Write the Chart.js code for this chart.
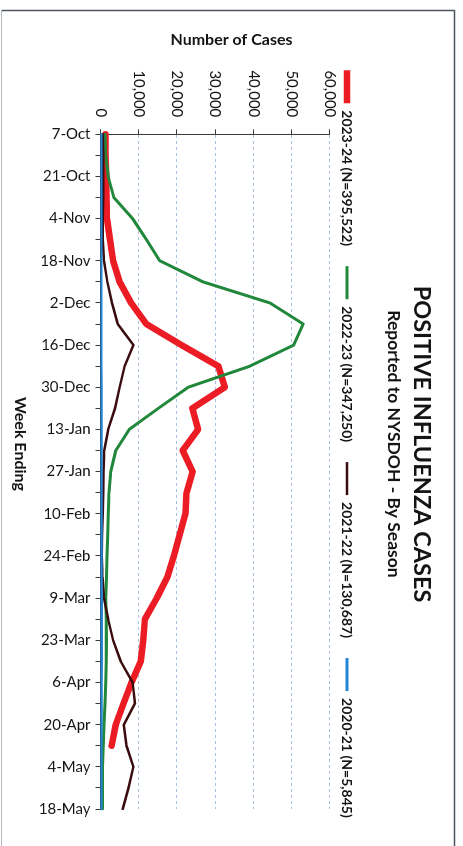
<!DOCTYPE html>
<html>
<head>
<meta charset="utf-8">
<title>Positive Influenza Cases</title>
<script src="https://cdn.jsdelivr.net/npm/chart.js@4/dist/chart.umd.min.js"></script>
<style>
  html, body { margin: 0; padding: 0; width: 463px; height: 846px; overflow: hidden; background: #ffffff; }
  #page { position: relative; width: 463px; height: 846px; overflow: hidden; }
  /* the chart is laid out landscape and turned a quarter turn clockwise */
  #turn { position: absolute; left: 0; top: 0; width: 888px; height: 463px;
          transform-origin: 0 0; transform: translate(463px, 0) rotate(90deg); }
  canvas { display: block; }
</style>
</head>
<body>
<div id="page"><div id="turn"><canvas id="flu" width="888" height="463"></canvas></div></div>
<script>
// Week-ending dates, 7 Oct through 18 May
const weeks = ['7-Oct','14-Oct','21-Oct','28-Oct','4-Nov','11-Nov','18-Nov','25-Nov','2-Dec','9-Dec',
  '16-Dec','23-Dec','30-Dec','6-Jan','13-Jan','20-Jan','27-Jan','3-Feb','10-Feb','17-Feb','24-Feb',
  '2-Mar','9-Mar','16-Mar','23-Mar','30-Mar','6-Apr','13-Apr','20-Apr','27-Apr','4-May','11-May','18-May'];

// Weekly positive influenza cases per season
const season2023_24 = [1300,1300,1500,1600,1700,2500,3300,5000,8000,12000,21200,30800,32500,24000,25500,
  21500,24100,22500,22200,20700,19200,17500,14700,11600,11200,10500,8100,6000,4000,2900];
const season2022_23 = [1200,1400,2000,3500,8400,12000,15500,26800,44300,53000,50500,39000,22900,15100,7500,
  4000,2700,2200,2000,1900,1700,1600,1400,1500,1600,1500,1400,1200,900,700,500,500,500];
const season2021_22 = [600,700,700,700,600,600,900,1800,3000,4500,8600,6300,5000,3800,2000,1000,800,700,
  600,400,300,500,900,2000,3300,5300,8400,9000,6100,6800,8600,7300,5800];
const season2020_21 = [100,100,100,100,100,100,100,100,100,150,150,150,200,200,200,200,200,200,200,200,
  200,200,250,250,250,250,200,200,200,150,150,150,150];

const seasonLabels = ['2023-24 (N=395,522)', '2022-23 (N=347,250)', '2021-22 (N=130,687)', '2020-21 (N=5,845)'];
const seasonColors = ['#ec1c24', '#21873a', '#3b0c0e', '#2486d6'];
const seasonWidths = [6.5, 3, 2.5, 3];

// Value axis ticks
const caseMin = 0, caseMax = 60000, caseStep = 10000;

const FONT = 'Lato, "Open Sans", sans-serif';
const INK = '#141414';

function seasonDataset(i, values) {
  return {
    label: seasonLabels[i],
    data: values,
    borderColor: seasonColors[i],
    backgroundColor: seasonColors[i],
    borderWidth: seasonWidths[i],
    pointBorderColor: seasonColors[i],
    pointBorderWidth: seasonWidths[i],
    pointRadius: 0,
    pointHoverRadius: 0,
    tension: 0,
    fill: false,
    borderCapStyle: 'round',
    borderJoinStyle: 'round',
    order: 4 - i
  };
}

// outer frame of the chart object (the far end runs past the page)
const framePlugin = {
  id: 'frame',
  beforeDraw(chart) {
    const { ctx, width, height } = chart;
    ctx.save();
    ctx.fillStyle = '#ffffff';
    ctx.fillRect(0, 0, width, height);
    ctx.strokeStyle = '#4d5360';
    ctx.lineWidth = 1.5;
    ctx.beginPath();
    ctx.moveTo(width, 8.5);
    ctx.lineTo(10.5, 8.5);
    ctx.lineTo(10.5, height - 1.5);
    ctx.stroke();
    ctx.strokeStyle = '#b4b8c0';
    ctx.lineWidth = 1;
    ctx.beginPath();
    ctx.moveTo(10.5, height - 1.5);
    ctx.lineTo(width, height - 1.5);
    ctx.stroke();
    ctx.restore();
  }
};

// axis captions, centred on the whole chart object
const captionPlugin = {
  id: 'captions',
  afterDraw(chart) {
    const { ctx, width, height } = chart;
    ctx.save();
    ctx.fillStyle = INK;
    ctx.font = 'bold 16px ' + FONT;
    ctx.textAlign = 'center';
    ctx.textBaseline = 'middle';
    ctx.save();
    ctx.translate(40, height / 2);
    ctx.rotate(-Math.PI / 2);
    ctx.fillText('Number of Cases', 0, 0);
    ctx.restore();
    ctx.fillText('Week Ending', width / 2, height - 20);
    ctx.restore();
  }
};

new Chart(document.getElementById('flu'), {
  type: 'line',
  data: {
    labels: weeks,
    datasets: [
      seasonDataset(0, season2023_24),
      seasonDataset(1, season2022_23),
      seasonDataset(2, season2021_22),
      seasonDataset(3, season2020_21)
    ]
  },
  options: {
    responsive: false,
    animation: false,
    devicePixelRatio: 1,
    layout: { padding: { top: 10, left: 0, right: 0, bottom: 0 } },
    plugins: {
      title: {
        display: true,
        text: 'POSITIVE INFLUENZA CASES',
        color: INK,
        font: { family: FONT, size: 23.5, weight: 'bold', lineHeight: 1.2 },
        padding: { top: 17.4, bottom: 0 }
      },
      subtitle: {
        display: true,
        text: 'Reported to NYSDOH - By Season',
        color: INK,
        font: { family: FONT, size: 17.5, weight: 'bold', lineHeight: 1.2 },
        padding: { top: 2.9, bottom: 9.5 }
      },
      legend: {
        display: true,
        position: 'top',
        labels: {
          usePointStyle: true,
          pointStyle: 'line',
          pointStyleWidth: 33,
          padding: 20,
          color: INK,
          font: { family: FONT, size: 14, weight: 'bold' },
          sort: (a, b) => a.datasetIndex - b.datasetIndex
        }
      },
      tooltip: { enabled: false }
    },
    scales: {
      x: {
        type: 'category',
        offset: false,
        grid: { display: true, drawOnChartArea: false, drawTicks: true, tickLength: 5, tickColor: '#3c3c3c', tickWidth: 1 },
        border: { display: true, color: '#3c3c3c', width: 1 },
        ticks: {
          autoSkip: false,
          minRotation: 90,
          maxRotation: 90,
          padding: 5,
          color: INK,
          font: { family: FONT, size: 15 },
          callback: function (value, index) { return index % 2 === 0 ? this.getLabelForValue(value) : ''; }
        },
        afterFit(scale) { scale.height = 100.5; scale.paddingRight = 79; }
      },
      y: {
        min: caseMin,
        max: caseMax,
        grid: { display: true, drawOnChartArea: true, color: '#a9c1de', lineWidth: 1, drawTicks: true,
                tickLength: 5, tickColor: '#3c3c3c', tickWidth: 1, tickBorderDash: [] },
        border: { display: true, color: '#3c3c3c', width: 1, dash: [3, 3] },
        ticks: {
          stepSize: caseStep,
          padding: 12,
          color: INK,
          font: { family: FONT, size: 15 },
          callback: (v) => v.toLocaleString('en-US')
        },
        afterFit(scale) { scale.width = 134.3; }
      }
    }
  },
  plugins: [framePlugin, captionPlugin]
});
</script>
</body>
</html>
